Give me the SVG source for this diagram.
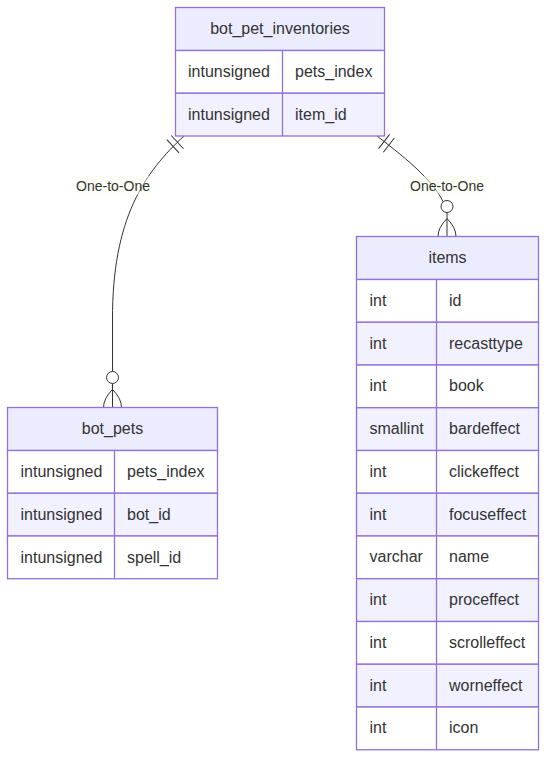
<svg xmlns="http://www.w3.org/2000/svg" width="547" height="758" viewBox="0 0 547 758">
<style>
.hdr{fill:#ECECFF;stroke:#9370DB;stroke-width:1.3}
.odd{fill:#ffffff;stroke:#9370DB;stroke-width:1.3}
.even{fill:#F1F1FF;stroke:#9370DB;stroke-width:1.3}
.div{stroke:#9370DB;stroke-width:1.3}
text{font-family:"Liberation Sans",Arial,sans-serif;fill:#333333;dominant-baseline:central}
.t{font-size:16px}
.c{text-anchor:middle}
.lbl{font-size:14px;text-anchor:middle}
.lblbox{fill:#F9FFEC;opacity:0.5}
.edge{fill:none;stroke:#333333;stroke-width:1}
.mk{fill:none;stroke:#333333;stroke-width:1}
</style>
<defs>
<marker id="onlyOneStart" markerUnits="userSpaceOnUse" refX="0" refY="9" markerWidth="18" markerHeight="18" orient="auto" overflow="visible">
<path class="mk" d="M9,0 L9,18 M15,0 L15,18"/>
</marker>
<marker id="zeroOrMoreEnd" markerUnits="userSpaceOnUse" refX="39" refY="18" markerWidth="57" markerHeight="36" orient="auto" overflow="visible">
<circle cx="9" cy="18" r="6" fill="#ffffff" stroke="#333333" stroke-width="1"/>
<path class="mk" d="M21,18 Q39,0 57,18 Q39,36 21,18"/>
</marker>
</defs>
<g id="connectors">
<path class="edge" d="M184,136 C145,172 112,218 112.5,320 L112.5,407.5" marker-start="url(#onlyOneStart)" marker-end="url(#zeroOrMoreEnd)"/>
<path class="edge" d="M377,136 C408,160 440,185 447,212 L447,236.5" marker-start="url(#onlyOneStart)" marker-end="url(#zeroOrMoreEnd)"/>
</g>
<g id="bot_pet_inventories">
<rect class="hdr" x="175.5" y="7.5" width="209" height="43"/>
<rect class="odd" x="175.5" y="50.5" width="209" height="42.75"/>
<rect class="even" x="175.5" y="93.25" width="209" height="42.75"/>
<line class="div" x1="282.5" y1="50.5" x2="282.5" y2="136"/>
<text class="t c" x="280" y="28.5">bot_pet_inventories</text>
<text class="t" x="188" y="71.5">intunsigned</text>
<text class="t" x="295" y="71.5">pets_index</text>
<text class="t" x="188" y="114.5">intunsigned</text>
<text class="t" x="295" y="114.5">item_id</text>
</g>
<g id="bot_pets">
<rect class="hdr" x="7.5" y="407.5" width="210" height="43"/>
<rect class="odd" x="7.5" y="450.5" width="210" height="42.75"/>
<rect class="even" x="7.5" y="493.25" width="210" height="42.75"/>
<rect class="odd" x="7.5" y="536" width="210" height="42.75"/>
<line class="div" x1="114.5" y1="450.5" x2="114.5" y2="578.75"/>
<text class="t c" x="112.5" y="428.5">bot_pets</text>
<text class="t" x="20.5" y="471.5">intunsigned</text>
<text class="t" x="127" y="471.5">pets_index</text>
<text class="t" x="20.5" y="514.5">intunsigned</text>
<text class="t" x="127" y="514.5">bot_id</text>
<text class="t" x="20.5" y="557">intunsigned</text>
<text class="t" x="127" y="557">spell_id</text>
</g>
<g id="items">
<rect class="hdr" x="356.5" y="236.5" width="182" height="43"/>
<rect class="odd" x="356.5" y="279.5" width="182" height="42.75"/>
<rect class="even" x="356.5" y="322.25" width="182" height="42.75"/>
<rect class="odd" x="356.5" y="365" width="182" height="42.75"/>
<rect class="even" x="356.5" y="407.75" width="182" height="42.75"/>
<rect class="odd" x="356.5" y="450.5" width="182" height="42.75"/>
<rect class="even" x="356.5" y="493.25" width="182" height="42.75"/>
<rect class="odd" x="356.5" y="536" width="182" height="42.75"/>
<rect class="even" x="356.5" y="578.75" width="182" height="42.75"/>
<rect class="odd" x="356.5" y="621.5" width="182" height="42.75"/>
<rect class="even" x="356.5" y="664.25" width="182" height="42.75"/>
<rect class="odd" x="356.5" y="707" width="182" height="42.75"/>
<line class="div" x1="436.5" y1="279.5" x2="436.5" y2="749.75"/>
<text class="t c" x="447.5" y="257.5">items</text>
<text class="t" x="369.5" y="300.5">int</text><text class="t" x="449" y="300.5">id</text>
<text class="t" x="369.5" y="343.1">int</text><text class="t" x="449" y="343.1">recasttype</text>
<text class="t" x="369.5" y="385.9">int</text><text class="t" x="449" y="385.9">book</text>
<text class="t" x="369.5" y="428.6">smallint</text><text class="t" x="449" y="428.6">bardeffect</text>
<text class="t" x="369.5" y="471.4">int</text><text class="t" x="449" y="471.4">clickeffect</text>
<text class="t" x="369.5" y="514.1">int</text><text class="t" x="449" y="514.1">focuseffect</text>
<text class="t" x="369.5" y="556.9">varchar</text><text class="t" x="449" y="556.9">name</text>
<text class="t" x="369.5" y="599.6">int</text><text class="t" x="449" y="599.6">proceffect</text>
<text class="t" x="369.5" y="642.4">int</text><text class="t" x="449" y="642.4">scrolleffect</text>
<text class="t" x="369.5" y="685.1">int</text><text class="t" x="449" y="685.1">worneffect</text>
<text class="t" x="369.5" y="727.9">int</text><text class="t" x="449" y="727.9">icon</text>
</g>
<g id="label1">
<rect class="lblbox" x="75.5" y="176" width="75" height="19"/>
<text class="lbl" x="113" y="186">One-to-One</text>
</g>
<g id="label2">
<rect class="lblbox" x="409.5" y="176" width="75" height="19"/>
<text class="lbl" x="447" y="186">One-to-One</text>
</g>
</svg>
